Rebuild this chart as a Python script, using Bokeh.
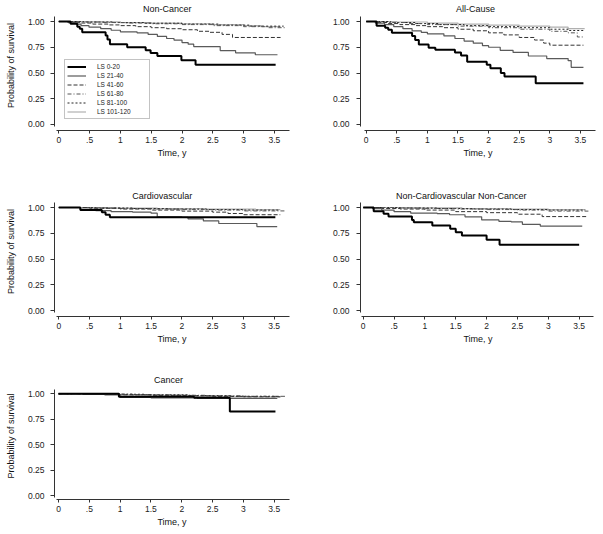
from bokeh.plotting import figure
from bokeh.layouts import gridplot
from bokeh.models import Range1d, FixedTicker, Label, Legend, LegendItem, Title
from bokeh.embed import file_html
from bokeh.resources import INLINE

# ---------------- data ----------------
groups = ["LS 0-20", "LS 21-40", "LS 41-60", "LS 61-80", "LS 81-100", "LS 101-120"]
x_ticks = [0, 0.5, 1, 1.5, 2, 2.5, 3, 3.5]
x_tick_labels = ["0", ".5", "1", "1.5", "2", "2.5", "3", "3.5"]
y_ticks = [0, 0.25, 0.5, 0.75, 1]
y_tick_labels = ["0.00", "0.25", "0.50", "0.75", "1.00"]
panel_titles = ["Non-Cancer", "All-Cause", "Cardiovascular",
                "Non-Cardiovascular Non-Cancer", "Cancer"]
x_title = "Time, y"
y_title = "Probability of survival"

# Kaplan-Meier step curves: times (years) and survival after each step
noncancer_time = [
    [0, 0.19, 0.30, 0.34, 0.38, 0.76, 0.79, 0.83, 1.11, 1.41, 1.49, 1.60, 1.99, 2.22, 3.52],
    [0, 0.15, 0.28, 0.36, 0.49, 0.68, 0.85, 1.0, 1.27, 1.45, 1.6, 1.75, 1.87, 2.0, 2.1, 2.19, 2.62, 2.87, 3.19, 3.55],
    [0, 0.15, 0.35, 0.55, 0.8, 1.0, 1.25, 1.5, 1.75, 2.0, 2.25, 2.45, 2.65, 2.82, 3.6],
    [0, 0.3, 0.7, 1.1, 1.5, 2.0, 2.5, 3.0, 3.4, 3.68],
    [0, 0.4, 0.9, 1.4, 2.0, 2.6, 3.1, 3.65],
    [0, 0.5, 1.0, 1.5, 2.0, 2.5, 3.0, 3.3, 3.6],
]
noncancer_surv = [
    [1, 0.978, 0.95, 0.93, 0.895, 0.865, 0.825, 0.78, 0.75, 0.72, 0.695, 0.665, 0.625, 0.58, 0.58],
    [1, 0.99, 0.975, 0.96, 0.945, 0.93, 0.915, 0.90, 0.89, 0.875, 0.855, 0.835, 0.82, 0.795, 0.78, 0.757, 0.718, 0.696, 0.677, 0.677],
    [1, 0.993, 0.985, 0.975, 0.967, 0.96, 0.95, 0.94, 0.93, 0.92, 0.905, 0.895, 0.875, 0.845, 0.845],
    [1, 0.995, 0.99, 0.985, 0.978, 0.97, 0.96, 0.95, 0.94, 0.94],
    [1, 0.995, 0.99, 0.983, 0.975, 0.965, 0.955, 0.955],
    [1, 0.997, 0.99, 0.985, 0.978, 0.97, 0.96, 0.95, 0.95],
]

allcause_time = [
    [0, 0.17, 0.31, 0.36, 0.42, 0.75, 0.80, 0.86, 1.02, 1.13, 1.45, 1.55, 1.65, 1.97, 2.03, 2.20, 2.26, 2.77, 3.55],
    [0, 0.15, 0.3, 0.45, 0.6, 0.75, 0.9, 1.0, 1.27, 1.45, 1.6, 1.75, 1.9, 2.0, 2.19, 2.4, 2.65, 2.95, 3.3, 3.35, 3.55],
    [0, 0.15, 0.35, 0.55, 0.8, 1.0, 1.25, 1.5, 1.75, 2.0, 2.25, 2.5, 2.75, 2.9, 3.0, 3.55],
    [0, 0.3, 0.7, 1.0, 1.5, 2.0, 2.5, 3.0, 3.3, 3.45, 3.57],
    [0, 0.4, 0.8, 1.2, 1.6, 2.0, 2.5, 3.0, 3.3, 3.57],
    [0, 0.5, 1.0, 1.5, 2.0, 2.5, 3.0, 3.3, 3.57],
]
allcause_surv = [
    [1, 0.96, 0.94, 0.92, 0.89, 0.86, 0.82, 0.777, 0.745, 0.725, 0.70, 0.67, 0.61, 0.58, 0.545, 0.50, 0.467, 0.40, 0.40],
    [1, 0.985, 0.97, 0.95, 0.93, 0.91, 0.895, 0.88, 0.86, 0.835, 0.81, 0.79, 0.765, 0.75, 0.72, 0.70, 0.665, 0.64, 0.62, 0.555, 0.555],
    [1, 0.99, 0.98, 0.97, 0.96, 0.95, 0.94, 0.925, 0.91, 0.89, 0.87, 0.845, 0.82, 0.79, 0.77, 0.77],
    [1, 0.99, 0.98, 0.97, 0.955, 0.94, 0.925, 0.905, 0.89, 0.85, 0.85],
    [1, 0.99, 0.98, 0.97, 0.96, 0.95, 0.94, 0.925, 0.913, 0.913],
    [1, 0.995, 0.985, 0.975, 0.965, 0.955, 0.945, 0.93, 0.93],
]

cardio_time = [
    [0, 0.35, 0.70, 0.76, 0.83, 3.52],
    [0, 0.35, 0.6, 0.85, 1.2, 1.5, 1.6, 2.0, 2.1, 2.35, 2.6, 3.22, 3.55],
    [0, 0.5, 1.0, 1.5, 2.0, 2.5, 2.75, 3.0, 3.6],
    [0, 0.5, 1.0, 1.5, 2.0, 2.5, 3.0, 3.68],
    [0, 0.6, 1.2, 1.8, 2.4, 3.0, 3.6],
    [0, 0.8, 1.6, 2.4, 3.2, 3.6],
]
cardio_surv = [
    [1, 0.977, 0.955, 0.93, 0.906, 0.906],
    [1, 0.985, 0.97, 0.96, 0.955, 0.945, 0.91, 0.905, 0.89, 0.87, 0.845, 0.815, 0.815],
    [1, 0.993, 0.985, 0.975, 0.965, 0.955, 0.942, 0.93, 0.93],
    [1, 0.995, 0.99, 0.985, 0.98, 0.975, 0.967, 0.967],
    [1, 0.995, 0.99, 0.985, 0.98, 0.975, 0.975],
    [1, 0.995, 0.99, 0.985, 0.98, 0.98],
]

noncvnc_time = [
    [0, 0.17, 0.33, 0.41, 0.79, 0.82, 1.12, 1.41, 1.50, 1.60, 2.0, 2.21, 3.5],
    [0, 0.15, 0.3, 0.5, 0.77, 1.2, 1.4, 1.65, 1.92, 2.2, 2.4, 2.58, 2.87, 3.55],
    [0, 0.3, 0.6, 1.0, 1.5, 2.0, 2.5, 2.9, 3.63],
    [0, 0.5, 1.0, 1.5, 2.0, 2.5, 3.0, 3.65],
    [0, 0.6, 1.2, 1.8, 2.4, 3.0, 3.6],
    [0, 0.8, 1.6, 2.4, 3.0, 3.6],
]
noncvnc_surv = [
    [1, 0.964, 0.94, 0.913, 0.88, 0.857, 0.825, 0.793, 0.76, 0.728, 0.686, 0.638, 0.638],
    [1, 0.99, 0.975, 0.96, 0.945, 0.94, 0.93, 0.91, 0.88, 0.865, 0.86, 0.837, 0.82, 0.82],
    [1, 0.99, 0.985, 0.975, 0.96, 0.95, 0.935, 0.912, 0.912],
    [1, 0.995, 0.99, 0.985, 0.98, 0.975, 0.965, 0.965],
    [1, 0.995, 0.99, 0.985, 0.98, 0.975, 0.975],
    [1, 0.997, 0.99, 0.985, 0.98, 0.98],
]

cancer_time = [
    [0, 0.98, 2.2, 2.78, 3.52],
    [0, 0.4, 0.75, 1.0, 1.5, 2.25, 3.55],
    [0, 0.5, 1.0, 1.5, 2.0, 2.5, 3.0, 3.6],
    [0, 0.6, 1.2, 1.8, 2.4, 3.0, 3.7],
    [0, 0.7, 1.4, 2.1, 2.8, 3.6],
    [0, 0.55, 1.0, 1.6, 2.2, 2.8, 3.6],
]
cancer_surv = [
    [1, 0.97, 0.96, 0.826, 0.826],
    [1, 0.995, 0.99, 0.965, 0.96, 0.955, 0.955],
    [1, 0.997, 0.99, 0.985, 0.98, 0.975, 0.97, 0.97],
    [1, 0.997, 0.99, 0.985, 0.98, 0.975, 0.975],
    [1, 0.995, 0.99, 0.982, 0.975, 0.975],
    [1, 0.995, 0.99, 0.985, 0.975, 0.97, 0.97],
]

# ---------------- styles ----------------
FONT = "Liberation Sans"
line_styles = [
    dict(line_color="#000000", line_width=2.0, line_dash="solid"),
    dict(line_color="#5a5a5a", line_width=1.2, line_dash="solid"),
    dict(line_color="#333333", line_width=1.0, line_dash="4 2"),
    dict(line_color="#555555", line_width=1.0, line_dash="4 2 1 2"),
    dict(line_color="#222222", line_width=1.0, line_dash="2 2"),
    dict(line_color="#b0b0b0", line_width=1.2, line_dash="solid"),
]

# geometry per panel (figure size, borders, ranges, label placement)
geoms = [
    dict(w=300, h=186, bl=54, br=11, bt=0, bb=56, xr=(-0.07, 3.745), yr=(-0.0583, 1.204),
         xb=(-0.035, 3.745), tx=1.76, ty=1.123, lxo=-8, ylab=True, lso=6),
    dict(w=303, h=186, bl=60, br=8, bt=0, bb=56, xr=(-0.093, 3.747), yr=(-0.0583, 1.204),
         xb=(-0.03, 3.747), tx=1.786, ty=1.123, lxo=-7, ylab=False, lso=7),
    dict(w=300, h=186, bl=54, br=11, bt=0, bb=56, xr=(-0.07, 3.75), yr=(-0.058, 1.204),
         xb=(-0.035, 3.745), tx=1.68, ty=1.1165, lxo=-8, ylab=True, lso=6),
    dict(w=303, h=186, bl=60, br=8, bt=0, bb=56, xr=(-0.044, 3.765), yr=(-0.058, 1.204),
         xb=(-0.03, 3.73), tx=1.59, ty=1.1165, lxo=-6, ylab=False, lso=7),
    dict(w=300, h=162, bl=54, br=11, bt=0, bb=35, xr=(-0.065, 3.748), yr=(-0.039, 1.209),
         xb=(-0.035, 3.745), tx=1.785, ty=1.131, lxo=-8, ylab=True, lso=6),
]

panel_data = [
    (noncancer_time, noncancer_surv),
    (allcause_time, allcause_surv),
    (cardio_time, cardio_surv),
    (noncvnc_time, noncvnc_surv),
    (cancer_time, cancer_surv),
]


def make_panel(i):
    g = geoms[i]
    times, survs = panel_data[i]
    p = figure(width=g["w"], height=g["h"], output_backend="svg", toolbar_location=None,
               x_range=Range1d(*g["xr"]), y_range=Range1d(*g["yr"]),
               min_border_left=g["bl"], min_border_right=g["br"],
               min_border_top=g["bt"], min_border_bottom=g["bb"])
    p.outline_line_color = None
    p.background_fill_color = "white"
    p.border_fill_color = "white"
    p.xgrid.grid_line_color = None
    p.ygrid.grid_line_color = None

    renderers = [None] * len(groups)
    for k in reversed(range(len(groups))):
        renderers[k] = p.step(x=times[k], y=survs[k], mode="after", **line_styles[k])

    # x axis
    xa = p.xaxis[0]
    xa.ticker = FixedTicker(ticks=x_ticks)
    xa.major_label_overrides = dict(zip(x_ticks, x_tick_labels))
    xa.minor_tick_line_color = None
    xa.major_tick_in = 0
    xa.major_tick_out = 3
    xa.major_label_standoff = 3
    xa.bounds = g["xb"]
    xa.axis_line_color = "#333333"
    xa.major_tick_line_color = "#333333"
    xa.major_label_text_font = FONT
    xa.major_label_text_font_size = "8.5px"
    xa.major_label_text_color = "#222222"

    # y axis
    ya = p.yaxis[0]
    ya.ticker = FixedTicker(ticks=y_ticks)
    ya.major_label_overrides = dict(zip(y_ticks, y_tick_labels))
    ya.minor_tick_line_color = None
    ya.major_tick_in = 0
    ya.major_tick_out = 4
    ya.major_label_standoff = g["lso"]
    ya.bounds = (-0.015, 1.045)
    ya.axis_line_color = "#333333"
    ya.major_tick_line_color = "#333333"
    ya.major_label_text_font = FONT
    ya.major_label_text_font_size = "8.5px"
    ya.major_label_text_color = "#222222"
    if g["ylab"]:
        ya.axis_label = y_title
        ya.axis_label_text_font = FONT
        ya.axis_label_text_font_size = "9px"
        ya.axis_label_text_font_style = "normal"
        ya.axis_label_text_color = "#111111"
        ya.axis_label_standoff = 9

    # panel title inside the frame area
    p.add_layout(Label(x=g["tx"], y=g["ty"], text=panel_titles[i], text_align="center",
                       text_baseline="middle", text_font=FONT, text_font_size="9px",
                       text_color="#111111"))
    # x axis title below the axis
    p.add_layout(Title(text=x_title, align="center", offset=g["lxo"], standoff=0,
                       text_font=FONT, text_font_size="9px", text_font_style="normal",
                       text_color="#111111"), "below")

    if i == 0:
        items = [LegendItem(label=groups[k], renderers=[renderers[k]]) for k in range(len(groups))]
        leg = Legend(items=items, location=(10, 11), margin=0, padding=2, spacing=0,
                     glyph_width=19, glyph_height=9, label_height=9, label_width=50,
                     label_standoff=11, label_text_font=FONT, label_text_font_size="6.5px",
                     label_text_color="#222222", border_line_color="#888888",
                     border_line_width=1, background_fill_color="white",
                     background_fill_alpha=1.0)
        p.add_layout(leg)
    return p


panels = [make_panel(i) for i in range(5)]
layout = gridplot([[panels[0], panels[1]], [panels[2], panels[3]], [panels[4], None]],
                  toolbar_location=None)

open("out.html", "w").write(file_html(layout, INLINE))
